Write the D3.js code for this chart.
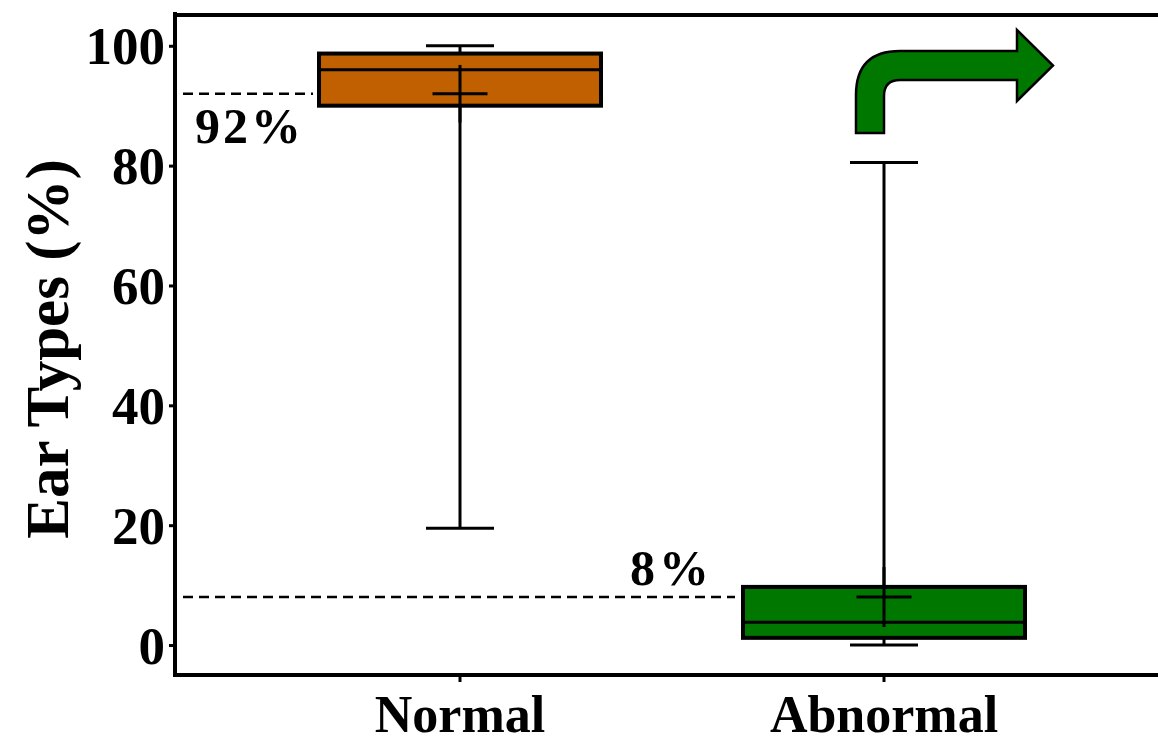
<!DOCTYPE html>
<html>
<head>
<meta charset="utf-8">
<script src="https://cdn.jsdelivr.net/npm/d3@7"></script>
<style>
  html, body { margin: 0; padding: 0; background: #fff; }
  svg { display: block; }
  text { font-family: "Liberation Serif", "Times New Roman", serif; font-weight: bold; fill: #000; }
</style>
</head>
<body>
<svg id="chart" width="1158" height="745"></svg>
<script>
// Ear type distribution (box plot summary per group)
const categories   = ["Normal", "Abnormal"];
const whiskerLow   = [19.5, 0];
const q1           = [90, 1.2];
const median       = [96, 3.8];
const q3           = [98.7, 9.7];
const whiskerHigh  = [100, 80.5];
const meanValue    = [92, 8];
const meanBarLow   = [87.2, 3];
const meanBarHigh  = [96.8, 13];
const boxColors    = ["#C06000", "#007800"];
const yTicks       = [0, 20, 40, 60, 80, 100];
const refLabels    = ["92%", "8%"];

const svg = d3.select("#chart");
const plotLeft = 175, plotRight = 1158, plotTop = 14, plotBottom = 675;

const x = d3.scaleBand().domain(categories).range([248, 1096]);
const y = d3.scaleLinear().domain([-5, 105.3]).range([plotBottom, plotTop]);

const boxW = 282, capW = 68, meanW = 55;
const cx = c => x(c) + x.bandwidth() / 2;

// dashed reference lines at the group means
const g = svg.append("g");
g.append("line")
  .attr("x1", plotLeft + 8).attr("x2", cx(categories[0]) - boxW / 2 - 6)
  .attr("y1", y(meanValue[0])).attr("y2", y(meanValue[0]))
  .attr("stroke", "#000").attr("stroke-width", 2.5).attr("stroke-dasharray", "10,6");
g.append("line")
  .attr("x1", plotLeft + 8).attr("x2", cx(categories[1]) - boxW / 2 - 8)
  .attr("y1", y(meanValue[1])).attr("y2", y(meanValue[1]))
  .attr("stroke", "#000").attr("stroke-width", 2.5).attr("stroke-dasharray", "10,6");

categories.forEach((c, i) => {
  const xc = cx(c);
  const gg = svg.append("g");
  // whiskers
  gg.append("line").attr("x1", xc).attr("x2", xc)
    .attr("y1", y(whiskerHigh[i])).attr("y2", y(q3[i]))
    .attr("stroke", "#000").attr("stroke-width", 3);
  gg.append("line").attr("x1", xc).attr("x2", xc)
    .attr("y1", y(q1[i])).attr("y2", y(whiskerLow[i]))
    .attr("stroke", "#000").attr("stroke-width", 3);
  [whiskerHigh[i], whiskerLow[i]].forEach(v => {
    gg.append("line").attr("x1", xc - capW / 2).attr("x2", xc + capW / 2)
      .attr("y1", y(v)).attr("y2", y(v))
      .attr("stroke", "#000").attr("stroke-width", 3);
  });
  // box
  gg.append("rect")
    .attr("x", xc - boxW / 2).attr("width", boxW)
    .attr("y", y(q3[i])).attr("height", y(q1[i]) - y(q3[i]))
    .attr("fill", boxColors[i]).attr("stroke", "#000").attr("stroke-width", 4);
  // median
  gg.append("line").attr("x1", xc - boxW / 2).attr("x2", xc + boxW / 2)
    .attr("y1", y(median[i])).attr("y2", y(median[i]))
    .attr("stroke", "#000").attr("stroke-width", 3);
  // mean with error bar
  gg.append("line").attr("x1", xc).attr("x2", xc)
    .attr("y1", y(meanBarHigh[i])).attr("y2", y(meanBarLow[i]))
    .attr("stroke", "#000").attr("stroke-width", 3);
  gg.append("line").attr("x1", xc - meanW / 2).attr("x2", xc + meanW / 2)
    .attr("y1", y(meanValue[i])).attr("y2", y(meanValue[i]))
    .attr("stroke", "#000").attr("stroke-width", 3);
});

// percentage labels
svg.append("text").attr("x", 195).attr("y", y(meanValue[0]) + 49)
  .attr("font-size", 50).attr("letter-spacing", 3).text(refLabels[0]);
svg.append("text").attr("x", 630).attr("y", y(meanValue[1]) - 12)
  .attr("font-size", 50).attr("letter-spacing", 4).text(refLabels[1]);

// y axis
const yAxis = svg.append("g").attr("transform", `translate(${plotLeft},0)`)
  .call(d3.axisLeft(y).tickValues(yTicks).tickSize(6).tickPadding(4).tickFormat(d3.format("d")));
yAxis.select(".domain").remove();
yAxis.selectAll(".tick line").attr("stroke", "#000").attr("stroke-width", 3);
yAxis.selectAll(".tick text").attr("font-size", 53).attr("dy", "0.34em")
  .style("font-family", "'Liberation Serif', 'Times New Roman', serif").style("font-weight", "bold");

// x axis
const xAxis = svg.append("g").attr("transform", `translate(0,${plotBottom})`)
  .call(d3.axisBottom(x).tickSize(7).tickPadding(13));
xAxis.select(".domain").remove();
xAxis.selectAll(".tick line").attr("stroke", "#000").attr("stroke-width", 3);
xAxis.selectAll(".tick text").attr("font-size", 52)
  .style("font-family", "'Liberation Serif', 'Times New Roman', serif").style("font-weight", "bold");

// frame lines
svg.append("line").attr("x1", plotLeft).attr("x2", plotLeft).attr("y1", plotTop - 2).attr("y2", plotBottom + 2)
  .attr("stroke", "#000").attr("stroke-width", 4);
svg.append("line").attr("x1", plotLeft - 2).attr("x2", plotRight).attr("y1", plotBottom).attr("y2", plotBottom)
  .attr("stroke", "#000").attr("stroke-width", 4);
svg.append("line").attr("x1", plotLeft - 2).attr("x2", plotRight).attr("y1", plotTop + 1).attr("y2", plotTop + 1)
  .attr("stroke", "#000").attr("stroke-width", 4);

// y axis title
svg.append("text")
  .attr("transform", `translate(68,349) rotate(-90)`)
  .attr("text-anchor", "middle").attr("font-size", 61).text("Ear Types (%)");

// bent arrow above the Abnormal group
const ax = cx(categories[1]) - 28, ay = 133;
const arrow = d3.path();
arrow.moveTo(ax, ay);
arrow.lineTo(ax, ay - 38);
arrow.quadraticCurveTo(ax, ay - 82, ax + 44, ay - 82);
arrow.lineTo(ax + 161, ay - 82);
arrow.lineTo(ax + 161, ay - 103);
arrow.lineTo(ax + 197, ay - 67.5);
arrow.lineTo(ax + 161, ay - 32);
arrow.lineTo(ax + 161, ay - 53);
arrow.lineTo(ax + 44, ay - 53);
arrow.quadraticCurveTo(ax + 28, ay - 53, ax + 28, ay - 37);
arrow.lineTo(ax + 28, ay);
arrow.closePath();
svg.append("path").attr("d", arrow.toString())
  .attr("fill", boxColors[1]).attr("stroke", "#000").attr("stroke-width", 2.5)
  .attr("stroke-linejoin", "miter");
</script>
</body>
</html>
